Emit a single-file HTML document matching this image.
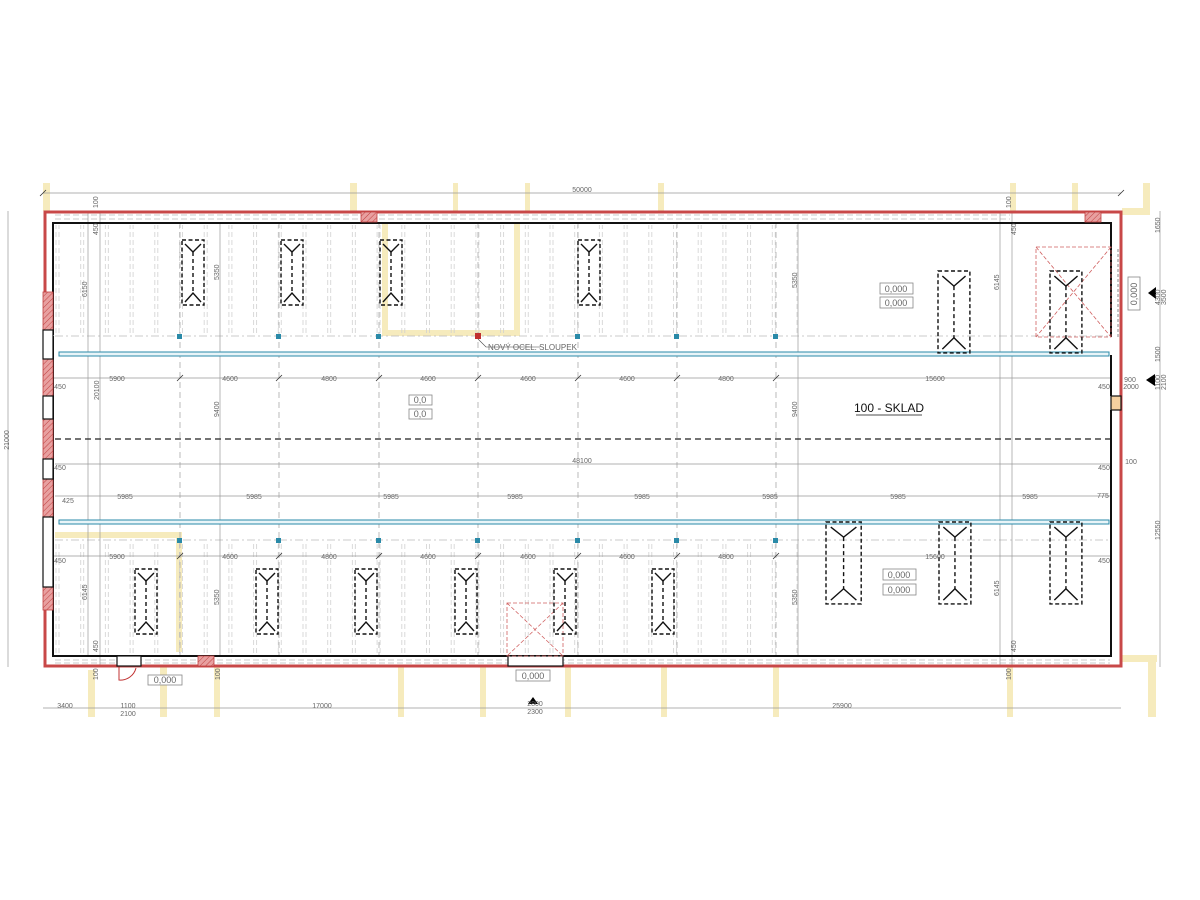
<!DOCTYPE html>
<html><head><meta charset="utf-8"><style>
html,body{margin:0;padding:0;background:#fff;width:1200px;height:900px;overflow:hidden}
svg{display:block}
text{font-family:"Liberation Sans",sans-serif;fill:#666}
</style></head><body>
<svg width="1200" height="900" viewBox="0 0 1200 900" xmlns="http://www.w3.org/2000/svg" font-size="7">
<defs>
<pattern id="pur" x="55" y="0" width="24.7" height="8" patternUnits="userSpaceOnUse">
<line x1="1" y1="0" x2="1" y2="5" stroke="#d0d0d0" stroke-width="0.8"/>
<line x1="4" y1="0" x2="4" y2="5" stroke="#d0d0d0" stroke-width="0.8"/>
</pattern>
<pattern id="hatch" width="4" height="4" patternUnits="userSpaceOnUse" patternTransform="rotate(45)">
<rect width="4" height="4" fill="#e8a0a0"/><line x1="0" y1="0" x2="0" y2="4" stroke="#c04040" stroke-width="1"/>
</pattern>
<g id="rk" fill="none" stroke="#111" stroke-width="1.4" vector-effect="non-scaling-stroke">
<rect x="0" y="0" width="22" height="65" stroke-dasharray="4,2.5" vector-effect="non-scaling-stroke"/>
<polyline points="3,4 11,12 19,4" vector-effect="non-scaling-stroke"/>
<line x1="11" y1="12" x2="11" y2="53" stroke-dasharray="4,3" vector-effect="non-scaling-stroke"/>
<polyline points="3,62 11,53 19,62" vector-effect="non-scaling-stroke"/>
</g>
</defs>

<!-- yellow existing -->
<g fill="#f6ebbd">
<rect x="43" y="183" width="7" height="28"/><rect x="350" y="183" width="7" height="28"/>
<rect x="453" y="183" width="5" height="28"/><rect x="525" y="183" width="5" height="28"/>
<rect x="658" y="183" width="6" height="28"/><rect x="1010" y="183" width="6" height="28"/>
<rect x="1072" y="183" width="6" height="28"/><rect x="1143" y="183" width="7" height="30"/>
<rect x="1122" y="208" width="28" height="7"/>
<rect x="382" y="222" width="6" height="114"/><rect x="382" y="330" width="135" height="6"/>
<rect x="514" y="222" width="6" height="114"/>
<rect x="55" y="532" width="125" height="6"/><rect x="176" y="532" width="6" height="120"/>
<rect x="88" y="670" width="7" height="47"/><rect x="160" y="667" width="7" height="50"/>
<rect x="214" y="667" width="6" height="50"/><rect x="398" y="667" width="6" height="50"/>
<rect x="480" y="667" width="6" height="50"/><rect x="565" y="667" width="6" height="50"/>
<rect x="661" y="667" width="6" height="50"/><rect x="773" y="667" width="6" height="50"/>
<rect x="1007" y="667" width="6" height="50"/><rect x="1120" y="655" width="37" height="7"/>
<rect x="1148" y="655" width="8" height="62"/>
</g>

<!-- purlins -->
<rect x="55" y="225" width="743" height="108" fill="url(#pur)"/>
<rect x="55" y="543" width="743" height="110" fill="url(#pur)"/>
<g stroke="#bbb" stroke-width="0.8" stroke-dasharray="6,3" fill="none">
<line x1="55" y1="215" x2="1010" y2="215"/><line x1="55" y1="219" x2="1010" y2="219"/>
<line x1="55" y1="660" x2="1110" y2="660"/><line x1="55" y1="663" x2="1110" y2="663"/>
<line x1="55" y1="336" x2="1110" y2="336" stroke-dasharray="8,3,2,3"/>
<line x1="55" y1="540" x2="1110" y2="540" stroke-dasharray="8,3,2,3"/>
</g>
<!-- column grid -->
<g stroke="#aaa" stroke-width="0.8" stroke-dasharray="6,4">
<line x1="180" y1="222" x2="180" y2="657"/><line x1="279" y1="222" x2="279" y2="657"/>
<line x1="379" y1="222" x2="379" y2="657"/><line x1="478" y1="222" x2="478" y2="657"/>
<line x1="578" y1="222" x2="578" y2="657"/><line x1="677" y1="222" x2="677" y2="657"/>
<line x1="776" y1="222" x2="776" y2="657"/>
</g>
<!-- dimension lines inside -->
<g stroke="#999" stroke-width="0.7">
<line x1="43" y1="193" x2="1121" y2="193"/>
<line x1="8" y1="211" x2="8" y2="667"/>
<line x1="43" y1="378" x2="1112" y2="378"/>
<line x1="55" y1="464" x2="1112" y2="464"/>
<line x1="55" y1="496" x2="1112" y2="496"/>
<line x1="43" y1="556" x2="1112" y2="556"/>
<line x1="43" y1="708" x2="1121" y2="708"/>
<line x1="88" y1="211" x2="88" y2="657"/><line x1="100" y1="211" x2="100" y2="667"/>
<line x1="220" y1="222" x2="220" y2="657"/><line x1="798" y1="222" x2="798" y2="657"/>
<line x1="1000" y1="211" x2="1000" y2="667"/><line x1="1012" y1="211" x2="1012" y2="667"/>
<line x1="1160" y1="211" x2="1160" y2="667"/>
</g>
<g stroke="#333" stroke-width="0.8">
<line x1="40" y1="196" x2="46" y2="190"/><line x1="1118" y1="196" x2="1124" y2="190"/>
<line x1="177" y1="381" x2="183" y2="375"/><line x1="276" y1="381" x2="282" y2="375"/><line x1="376" y1="381" x2="382" y2="375"/><line x1="475" y1="381" x2="481" y2="375"/><line x1="575" y1="381" x2="581" y2="375"/><line x1="674" y1="381" x2="680" y2="375"/><line x1="773" y1="381" x2="779" y2="375"/>
<line x1="177" y1="559" x2="183" y2="553"/><line x1="276" y1="559" x2="282" y2="553"/><line x1="376" y1="559" x2="382" y2="553"/><line x1="475" y1="559" x2="481" y2="553"/><line x1="575" y1="559" x2="581" y2="553"/><line x1="674" y1="559" x2="680" y2="553"/><line x1="773" y1="559" x2="779" y2="553"/>
</g>

<!-- black dashed center line -->
<line x1="55" y1="439" x2="1110" y2="439" stroke="#222" stroke-width="1.2" stroke-dasharray="6,4"/>

<!-- blue beams -->
<g fill="#e8f4f8" stroke="#2a8aa8" stroke-width="1">
<rect x="59" y="352" width="1050" height="4"/>
<rect x="59" y="520" width="1050" height="4"/>
</g>
<g fill="#2a8aa8">
<rect x="177" y="334" width="5" height="5"/><rect x="276" y="334" width="5" height="5"/><rect x="376" y="334" width="5" height="5"/><rect x="575" y="334" width="5" height="5"/><rect x="674" y="334" width="5" height="5"/><rect x="773" y="334" width="5" height="5"/>
<rect x="177" y="538" width="5" height="5"/><rect x="276" y="538" width="5" height="5"/><rect x="376" y="538" width="5" height="5"/><rect x="475" y="538" width="5" height="5"/><rect x="575" y="538" width="5" height="5"/><rect x="674" y="538" width="5" height="5"/><rect x="773" y="538" width="5" height="5"/>
</g>
<rect x="475" y="333" width="6" height="6" fill="#c03030"/>
<polyline points="478,339 486,347 540,347" fill="none" stroke="#444" stroke-width="0.6"/>
<text x="488" y="350" font-size="8" fill="#444">NOVÝ OCEL. SLOUPEK</text>

<!-- walls -->
<rect x="45" y="212" width="1076" height="454" fill="none" stroke="#c84848" stroke-width="3"/>
<polyline points="53,335 53,223 1111,223 1111,337" fill="none" stroke="#111" stroke-width="2"/>
<polyline points="1111,355 1111,396" fill="none" stroke="#111" stroke-width="2"/>
<polyline points="1111,410 1111,656 53,656 53,336" fill="none" stroke="#111" stroke-width="2"/>
<g fill="url(#hatch)" stroke="#c04040" stroke-width="0.8">
<rect x="43" y="292" width="10" height="38"/><rect x="43" y="359" width="10" height="37"/>
<rect x="43" y="419" width="10" height="40"/><rect x="43" y="479" width="10" height="38"/>
<rect x="43" y="587" width="10" height="23"/>
<rect x="361" y="212" width="16" height="10"/><rect x="1085" y="212" width="16" height="10"/>
<rect x="198" y="656" width="16" height="10"/>
</g>
<g fill="#fff" stroke="#111" stroke-width="1.2">
<rect x="43" y="330" width="10" height="29"/><rect x="43" y="396" width="10" height="23"/>
<rect x="43" y="459" width="10" height="20"/><rect x="43" y="517" width="10" height="70"/>
<rect x="117" y="656" width="24" height="10"/><rect x="508" y="656" width="55" height="10"/>
<rect x="1111" y="396" width="10" height="14" fill="#f5d0a0"/>
</g>
<path d="M119,667 L119,680 A16,16 0 0 0 136,668" fill="none" stroke="#c03030" stroke-width="1"/>
<!-- red dashed hatches -->
<g fill="none" stroke="#d06060" stroke-width="0.8" stroke-dasharray="4,2">
<rect x="1036" y="247" width="75" height="90"/>
<line x1="1036" y1="247" x2="1111" y2="337"/><line x1="1111" y1="247" x2="1036" y2="337"/>
<rect x="507" y="603" width="56" height="53"/>
<line x1="507" y1="603" x2="563" y2="656"/><line x1="563" y1="603" x2="507" y2="656"/>
</g>
<line x1="1118" y1="249" x2="1118" y2="337" stroke="#888" stroke-dasharray="3,2"/>

<!-- racks -->
<use href="#rk" transform="translate(182,240)"/><use href="#rk" transform="translate(281,240)"/>
<use href="#rk" transform="translate(380,240)"/><use href="#rk" transform="translate(578,240)"/>
<use href="#rk" transform="translate(135,569)"/><use href="#rk" transform="translate(256,569)"/>
<use href="#rk" transform="translate(355,569)"/><use href="#rk" transform="translate(455,569)"/>
<use href="#rk" transform="translate(554,569)"/><use href="#rk" transform="translate(652,569)"/>
<use href="#rk" transform="translate(938,271) scale(1.45,1.26)"/>
<use href="#rk" transform="translate(1050,271) scale(1.45,1.26)"/>
<use href="#rk" transform="translate(826,522) scale(1.6,1.26)"/>
<use href="#rk" transform="translate(939,522) scale(1.45,1.26)"/>
<use href="#rk" transform="translate(1050,522) scale(1.45,1.26)"/>

<!-- level boxes -->
<g fill="#fff" stroke="#888" stroke-width="0.8">
<rect x="880" y="283" width="33" height="11"/><rect x="880" y="297" width="33" height="11"/>
<rect x="883" y="569" width="33" height="11"/><rect x="883" y="584" width="33" height="11"/>
<rect x="409" y="395" width="23" height="10"/><rect x="409" y="409" width="23" height="10"/>
<rect x="148" y="675" width="34" height="10"/><rect x="516" y="670" width="34" height="11"/>
<rect x="1128" y="277" width="12" height="33"/>
</g>
<g font-size="9" text-anchor="middle">
<text x="896" y="292">0,000</text><text x="896" y="306">0,000</text>
<text x="899" y="578">0,000</text><text x="899" y="593">0,000</text>
<text x="420" y="403">0,0</text><text x="420" y="417">0,0</text>
<text x="165" y="683">0,000</text><text x="533" y="679">0,000</text>
<text transform="translate(1137,294) rotate(-90)">0,000</text>
</g>
<g fill="#000">
<polygon points="1148,293 1156,287 1156,299"/><polygon points="1146,380 1155,374 1155,386"/>
<polygon points="533,697 528,704 538,704"/>
</g>
<text x="889" y="412" font-size="12" style="fill:#111" text-anchor="middle">100 - SKLAD</text>
<line x1="856" y1="415" x2="922" y2="415" stroke="#111" stroke-width="0.8"/>

<!-- dimension text -->
<g text-anchor="middle">
<text x="582" y="192">50000</text>
<text x="117" y="381">5900</text><text x="230" y="381">4600</text><text x="329" y="381">4800</text><text x="428" y="381">4600</text><text x="528" y="381">4600</text><text x="627" y="381">4600</text><text x="726" y="381">4800</text><text x="935" y="381">15600</text>
<text x="117" y="559">5900</text><text x="230" y="559">4600</text><text x="329" y="559">4800</text><text x="428" y="559">4600</text><text x="528" y="559">4600</text><text x="627" y="559">4600</text><text x="726" y="559">4800</text><text x="935" y="559">15600</text>
<text x="125" y="499">5985</text><text x="254" y="499">5985</text><text x="391" y="499">5985</text><text x="515" y="499">5985</text><text x="642" y="499">5985</text><text x="770" y="499">5985</text><text x="898" y="499">5985</text><text x="1030" y="499">5985</text>
<text x="582" y="463">48100</text>
<text x="60" y="389">450</text><text x="60" y="470">450</text><text x="68" y="503">425</text><text x="60" y="563">450</text>
<text x="1104" y="389">450</text><text x="1104" y="470">450</text><text x="1104" y="563">450</text><text x="1103" y="498">775</text><text x="1131" y="464">100</text>
<text x="65" y="708">3400</text><text x="128" y="708">1100</text><text x="128" y="716">2100</text>
<text x="322" y="708">17000</text><text x="842" y="708">25900</text>
<text x="535" y="706">2800</text><text x="535" y="714">2300</text>
<text x="1130" y="382">900</text><text x="1131" y="389">2000</text>
</g>
<g>
<text transform="translate(9,440) rotate(-90)" text-anchor="middle">21000</text>
<text transform="translate(87,297) rotate(-90)">6150</text>
<text transform="translate(99,400) rotate(-90)">20100</text>
<text transform="translate(87,600) rotate(-90)">6145</text>
<text transform="translate(219,280) rotate(-90)">5350</text>
<text transform="translate(219,605) rotate(-90)">5350</text>
<text transform="translate(219,417) rotate(-90)">9400</text>
<text transform="translate(797,417) rotate(-90)">9400</text>
<text transform="translate(797,288) rotate(-90)">5350</text>
<text transform="translate(797,605) rotate(-90)">5350</text>
<text transform="translate(999,290) rotate(-90)">6145</text>
<text transform="translate(999,596) rotate(-90)">6145</text>
<text transform="translate(1160,233) rotate(-90)">1650</text>
<text transform="translate(1160,305) rotate(-90)">4300</text>
<text transform="translate(1166,305) rotate(-90)">3500</text>
<text transform="translate(1160,362) rotate(-90)">1500</text>
<text transform="translate(1160,390) rotate(-90)">1100</text>
<text transform="translate(1166,390) rotate(-90)">2100</text>
<text transform="translate(1160,540) rotate(-90)">12550</text>
<text transform="translate(98,208) rotate(-90)">100</text>
<text transform="translate(1011,208) rotate(-90)">100</text>
<text transform="translate(98,235) rotate(-90)">450</text>
<text transform="translate(1016,235) rotate(-90)">450</text>
<text transform="translate(98,652) rotate(-90)">450</text>
<text transform="translate(1016,652) rotate(-90)">450</text>
<text transform="translate(98,680) rotate(-90)">100</text>
<text transform="translate(220,680) rotate(-90)">100</text>
<text transform="translate(1011,680) rotate(-90)">100</text>
</g>
</svg>
</body></html>
